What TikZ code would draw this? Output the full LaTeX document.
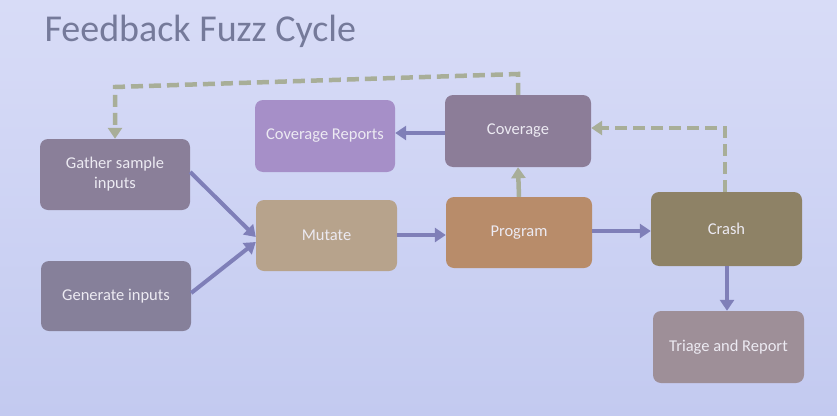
\documentclass[tikz,border=0pt]{standalone}
\usepackage{fontspec}
\setmainfont{Carlito}
\usetikzlibrary{arrows.meta}
\definecolor{bgtop}{HTML}{D8DCF7}
\definecolor{bgbot}{HTML}{C3CAF0}
\definecolor{titlec}{HTML}{757A9A}
\definecolor{gathc}{HTML}{8A7F99}
\definecolor{genc}{HTML}{86809A}
\definecolor{repc}{HTML}{A68FC8}
\definecolor{mutc}{HTML}{B7A38C}
\definecolor{covc}{HTML}{8C7D98}
\definecolor{progc}{HTML}{B88C6A}
\definecolor{crashc}{HTML}{8E8266}
\definecolor{triagec}{HTML}{9E8F98}
\definecolor{flowc}{HTML}{7F7FB8}
\definecolor{fbc}{HTML}{A8AE98}
\definecolor{boxtext}{HTML}{ECEAF2}
\tikzset{
  stage/.style={rounded corners=8pt, inner sep=0pt, align=center,
    text=boxtext, font=\fontsize{16.5}{20}\selectfont},
  flow/.style={draw=flowc, line width=4pt,
    -{Triangle[length=11pt,width=14pt]}},
  feed/.style={draw=fbc, line width=4.5pt,
    -{Triangle[length=11pt,width=14pt]}},
  feeddash/.style={feed, dash pattern=on 12pt off 6pt},
}
\begin{document}
\begin{tikzpicture}[x=1pt,y=-1pt]
  \useasboundingbox (0,0) rectangle (837,415);
  \shade[top color=bgtop, bottom color=bgbot] (0,0) rectangle (837,415);

  \node[anchor=west, text=titlec, font=\fontsize{38}{44}\selectfont]
    (title) at (41,31) {Feedback Fuzz Cycle};

  % stages
  \node[stage, fill=gathc, minimum width=150pt, minimum height=71pt]
    (gather) at (115,174.5) {Gather sample\\inputs};
  \node[stage, fill=genc, minimum width=150pt, minimum height=70pt]
    (gen) at (116,296) {Generate inputs};
  \node[stage, fill=repc, minimum width=140pt, minimum height=72pt]
    (reports) at (325,136) {Coverage Reports};
  \node[stage, fill=mutc, minimum width=141pt, minimum height=71pt]
    (mutate) at (326.5,235.5) {Mutate};
  \node[stage, fill=covc, minimum width=146pt, minimum height=72pt]
    (coverage) at (518,131) {Coverage};
  \node[stage, fill=progc, minimum width=146pt, minimum height=71pt]
    (program) at (519,232.5) {Program};
  \node[stage, fill=crashc, minimum width=151pt, minimum height=74pt]
    (crash) at (726.5,229) {Crash};
  \node[stage, fill=triagec, minimum width=151pt, minimum height=72pt]
    (triage) at (728.5,347) {Triage and Report};

  % main flow
  \draw[flow] (gather.east |- 0,172) -- (mutate.west |- 0,237);
  \draw[flow] (gen.east |- 0,293) -- (mutate.west |- 0,242);
  \draw[flow] (mutate.east |- 0,235) -- (program.west |- 0,235);
  \draw[flow] (program.east |- 0,231) -- (crash.west |- 0,231);
  \draw[flow] (crash.south -| 727,0) -- (triage.north -| 727,0);
  \draw[flow] (coverage.west |- 0,133) -- (reports.east |- 0,133);

  % feedback
  \draw[feed] (program.north) -- (coverage.south);
  \coordinate (fbtopr) at (518,74);
  \coordinate (fbtopl) at (115,87);
  \draw[feeddash] (coverage.north) -- (fbtopr) -- (fbtopl) -- (gather.north);
  \coordinate (crtop) at (725,128);
  \draw[feeddash] (crash.north -| 725,0) -- (crtop) -- (coverage.east |- 0,128);
\end{tikzpicture}
\end{document}
